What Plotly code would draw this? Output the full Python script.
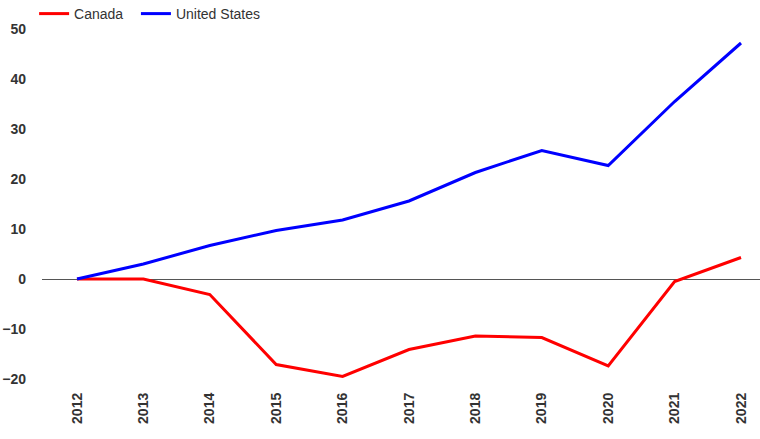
import plotly.graph_objects as go

years = [2012, 2013, 2014, 2015, 2016, 2017, 2018, 2019, 2020, 2021, 2022]
canada = [0, 0, -3.1, -17.1, -19.5, -14.1, -11.4, -11.7, -17.4, -0.5, 4.3]
united_states = [0, 3.0, 6.7, 9.7, 11.8, 15.6, 21.3, 25.7, 22.7, 35.5, 47.2]
y_ticks = [-20, -10, 0, 10, 20, 30, 40, 50]

FONT = "Liberation Sans, Arial, sans-serif"

fig = go.Figure()
fig.add_trace(go.Scatter(x=years, y=canada, name="Canada\u00a0\u00a0", mode="lines",
                         line=dict(color="#ff0000", width=3)))
fig.add_trace(go.Scatter(x=years, y=united_states, name="United States", mode="lines",
                         line=dict(color="#0000ff", width=3)))

fig.update_layout(
    width=760, height=439,
    margin=dict(l=42, r=0, t=19, b=50, autoexpand=False),
    paper_bgcolor="white", plot_bgcolor="white",
    font=dict(family=FONT, size=14, color="#333333"),
    showlegend=True,
    legend=dict(orientation="h", x=-0.011, xanchor="left", y=1.0135, yanchor="middle",
                font=dict(size=14, color="#333333", family=FONT), bgcolor="rgba(0,0,0,0)",
                tracegroupgap=0),
    xaxis=dict(range=[2011.473, 2022.286], tickvals=years, ticktext=[str(y) for y in years],
               tickangle=-90, showgrid=False, zeroline=False, showline=False, ticks="",
               tickfont=dict(size=14, color="#333333", family=FONT, weight="bold")),
    yaxis=dict(range=[-22, 52], tickvals=y_ticks, showgrid=False, zeroline=True,
               zerolinecolor="#555555", zerolinewidth=1, showline=False, ticks="",
               ticklabelstandoff=15,
               tickfont=dict(size=14, color="#333333", family=FONT, weight="bold")),
)

fig.write_html("out.html")
